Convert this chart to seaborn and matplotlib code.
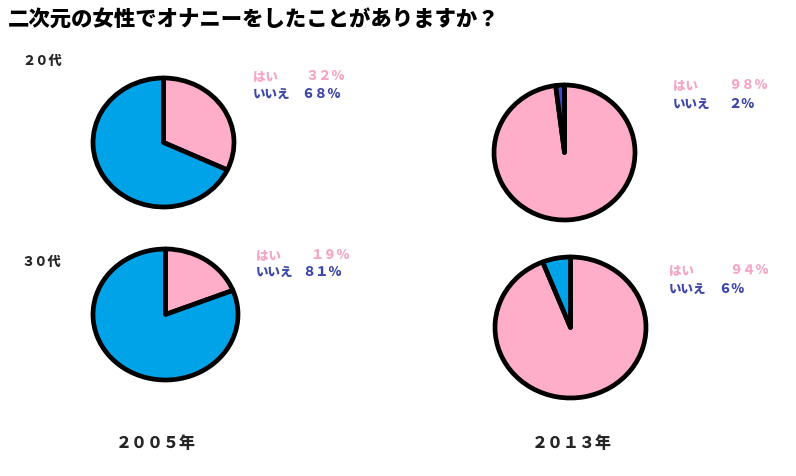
import matplotlib
matplotlib.use("Agg")
import matplotlib.pyplot as plt
import seaborn as sns

sns.set_theme(style="white")
plt.rcParams['font.family'] = ['Noto Sans CJK JP', 'DejaVu Sans']

# ---- data ----
title = "二次元の女性でオナニーをしたことがありますか？"
years = ["２００５年", "２０１３年"]
ages = ["２０代", "３０代"]
answers = ["はい", "いいえ"]
yes_2005 = [32, 19]   # 20代, 30代
yes_2013 = [98, 94]
no_2005 = [68, 81]
no_2013 = [2, 6]

pink = "#FFAEC9"
blue = "#00A2E8"
indigo = "#3F48CC"
yes_text = "#F4A6C4"
no_text = "#3F48A8"

W, H = 796, 477
fig = plt.figure(figsize=(W / 100, H / 100), dpi=100)
fig.patch.set_facecolor("white")

def px_axes(x0, y0, x1, y1):
    return fig.add_axes([x0 / W, 1 - y1 / H, (x1 - x0) / W, (y1 - y0) / H])

def ptext(x, y, s, **kw):
    fig.text(x / W, 1 - y / H, s, **kw)

def zen(n):
    return "".join(chr(ord(c) + 0xFEE0) if c.isdigit() else c for c in str(n))

# pie boxes (pixel bounds) and legend anchors
pies = [
    # (yes, no, box, no-colour, (label x, yes y, no y, yes pct x, no pct x))
    (yes_2005[0], no_2005[0], (93, 79, 234, 208), blue, (253, 76, 94, 306, 301)),
    (yes_2013[0], no_2013[0], (494, 86, 635, 221), indigo, (673, 85, 104, 728, 728)),
    (yes_2005[1], no_2005[1], (93, 250, 238, 381), blue, (256, 255, 272, 310, 302)),
    (yes_2013[1], no_2013[1], (495, 258, 646, 399), blue, (669, 270, 289, 729, 718)),
]

WT = "black"
for yes, no, box, ncol, (lx, ly1, ly2, px1, px2) in pies:
    ax = px_axes(*box)
    ax.pie([yes, no], colors=[pink, ncol], startangle=90, counterclock=False,
           wedgeprops=dict(edgecolor="black", linewidth=3.4, joinstyle="round"))
    ax.set_aspect("auto")
    ax.set_xlim(-1.0, 1.0)
    ax.set_ylim(-1.0, 1.0)
    ax.axis("off")
    ptext(lx, ly1, answers[0], color=yes_text, fontsize=9, fontweight=WT,
          ha="left", va="center")
    ptext(lx, ly2, answers[1], color=no_text, fontsize=9, fontweight=WT,
          ha="left", va="center")
    ptext(px1, ly1, zen(yes) + "%", color=yes_text, fontsize=9.5, fontweight=WT,
          ha="left", va="center")
    ptext(px2, ly2, zen(no) + "%", color=no_text, fontsize=9.5, fontweight=WT,
          ha="left", va="center")

ptext(8, 20, title, fontsize=15.4, fontweight=WT, color="black",
      ha="left", va="center")
ptext(22, 61, ages[0], fontsize=9.5, fontweight=WT, ha="left", va="center")
ptext(22, 262, ages[1], fontsize=9.5, fontweight=WT, ha="left", va="center")
ptext(116, 443, years[0], fontsize=11.5, fontweight=WT, ha="left", va="center")
ptext(532, 443, years[1], fontsize=11.5, fontweight=WT, ha="left", va="center")

fig.savefig("out.png", dpi=100, facecolor="white")
